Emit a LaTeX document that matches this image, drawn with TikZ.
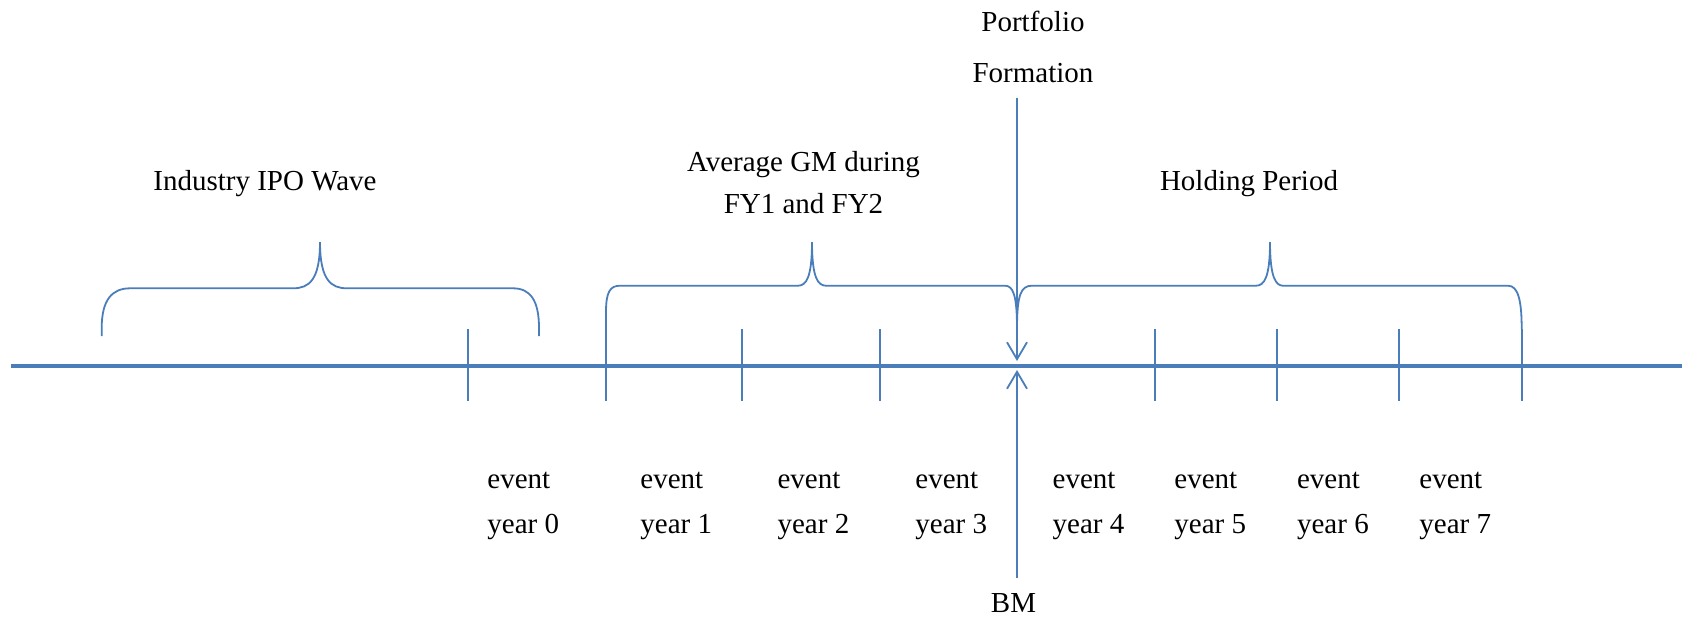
\documentclass[tikz,border=0pt]{standalone}
\usepackage{fontspec}
\setmainfont{Liberation Serif}
\usetikzlibrary{arrows.meta}
\definecolor{lineblue}{RGB}{74,126,187}
\begin{document}
\begin{tikzpicture}[x=0.5pt,y=-0.5pt,
  lbl/.style={font=\fontsize{14.5pt}{17pt}\selectfont, inner sep=0pt, anchor=base},
  evlbl/.style={font=\fontsize{14.5pt}{17pt}\selectfont, inner sep=0pt, anchor=base west},
  axisline/.style={draw=lineblue, line width=2pt},
  tickline/.style={draw=lineblue, line width=0.9pt},
  braceline/.style={draw=lineblue, line width=0.9pt},
  arrowline/.style={draw=lineblue, line width=0.9pt, -{Straight Barb[length=8.5pt,width=10pt,line width=0.9pt]}}]
\useasboundingbox (0,0) rectangle (1682,618);

% axis
\coordinate (axL) at (11,365.5);
\coordinate (axR) at (1682,365.5);
\draw[axisline] (axL) -- (axR);

% ticks
\foreach \n/\x in {t0/467.7,t1/606,t2/742.3,t3/879.6,t4/1155,t5/1277.3,t6/1399.3,t7/1521.7}{
  \coordinate (\n top) at (\x,329);
  \coordinate (\n bot) at (\x,401);
  \draw[tickline] (\n top) -- (\n bot);
}

% braces
\draw[braceline] (101.7,336) -- (101.7,328) .. controls (101.7,300) and (112,288.3) .. (130,288.3)
  -- (293,288.3) .. controls (309,288.3) and (320,280) .. (320,242)
  .. controls (320,280) and (331,288.3) .. (347,288.3)
  -- (513,288.3) .. controls (530,288.3) and (539,300) .. (539,328) -- (539,336);

\draw[braceline] (606,329) -- (606,312) .. controls (606,292) and (610,285.7) .. (620,285.7)
  -- (798,285.7) .. controls (806,285.7) and (812,278) .. (812,242)
  .. controls (812,278) and (818,285.7) .. (826,285.7)
  -- (1005,285.7) .. controls (1013,285.7) and (1017,295) .. (1017,328);

\draw[braceline] (1017,328) .. controls (1017,295) and (1021,285.7) .. (1031.7,285.7)
  -- (1256,285.7) .. controls (1264,285.7) and (1270,278) .. (1270,242)
  .. controls (1270,278) and (1276,285.7) .. (1283,285.7)
  -- (1508,285.7) .. controls (1518,285.7) and (1521.7,300) .. (1521.7,329);

% arrows
\coordinate (topstart) at (1017,98);
\coordinate (toptip) at (1017,361);
\coordinate (botstart) at (1017,578);
\coordinate (bottip) at (1017,370);
\draw[arrowline] (topstart) -- (toptip);
\draw[arrowline] (botstart) -- (bottip);

% labels
\node[lbl] (pf1) at (1033,31.7) {Portfolio};
\node[lbl] (pf2) at (1033,82) {Formation};
\node[lbl] (ipo) at (265,190) {Industry IPO Wave};
\node[lbl] (gm1) at (803.5,171.7) {Average GM during};
\node[lbl] (gm2) at (803.5,213.3) {FY1 and FY2};
\node[lbl] (hold) at (1249,190) {Holding Period};
\node[lbl] (bm) at (1013.5,612) {BM};

\foreach \i/\x in {0/487,1/640,2/777.2,3/915,4/1052.3,5/1174,6/1296.7,7/1419}{
  \node[evlbl] (ev\i) at (\x,488.3) {event};
  \node[evlbl] (yr\i) at (\x,533.3) {year \i};
}
\end{tikzpicture}
\end{document}
